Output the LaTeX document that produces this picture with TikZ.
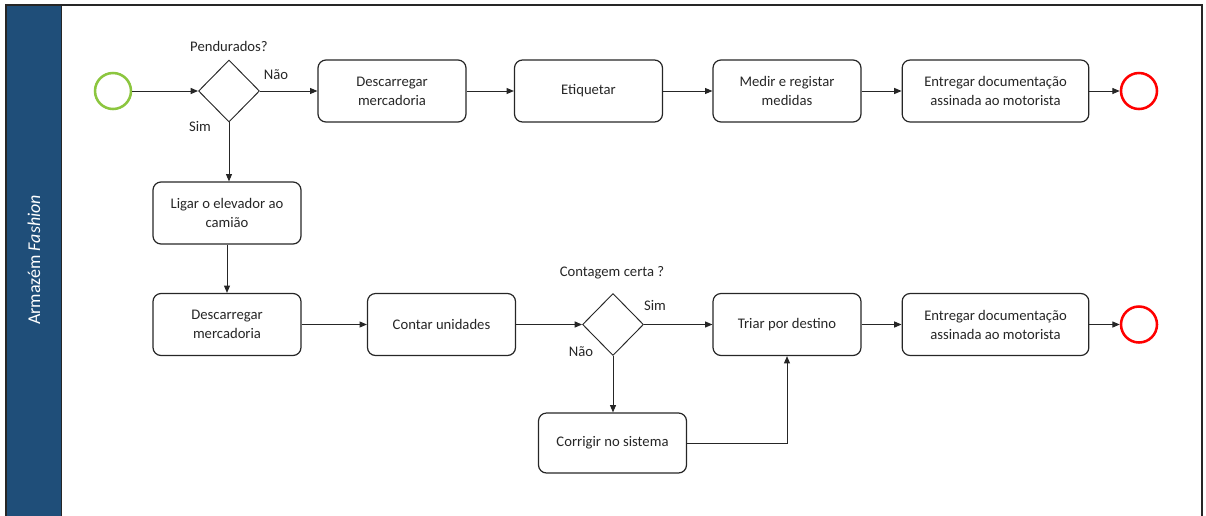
\documentclass[tikz,border=0pt]{standalone}
\usepackage{fontspec}
\setmainfont{Carlito}
\usetikzlibrary{arrows.meta,shapes.geometric}
\definecolor{lane}{HTML}{1F4E79}
\definecolor{startc}{HTML}{8CC63F}
\definecolor{endc}{HTML}{FF0000}
\definecolor{ink}{HTML}{262626}
\begin{document}
\begin{tikzpicture}[x=0.75pt,y=-0.75pt,
  font=\fontsize{11}{14.3}\selectfont, text=ink,
  task/.style={draw=ink,line width=0.9pt,rounded corners=6pt,align=center,minimum width=111pt,minimum height=46.5pt,inner sep=0pt},
  wide/.style={task,minimum width=140pt},
  gate/.style={draw=ink,line width=0.7pt,diamond,minimum width=45.75pt,minimum height=46.5pt,inner sep=0pt},
  ev/.style={circle,line width=1.9pt,minimum size=27pt,inner sep=0pt},
  flow/.style={draw=ink,line width=0.75pt,-{Triangle[length=5.5pt,width=4.5pt]}},
  lbl/.style={inner sep=1pt}]
\useasboundingbox (0,0) rectangle (1206,515);
\clip (0,0) rectangle (1206,515);
% lane
\draw[draw=ink,line width=0.9pt] (6,5) rectangle (1202,530);
\fill[lane] (7,5.5) rectangle (61,530);
\draw[draw=ink,line width=0.6pt] (61,5) -- (61,530);
\node[rotate=90,text=white,font=\fontsize{13.5}{16}\selectfont] (lanelabel) at (34,260) {Armazém \textit{Fashion}};
% top row
\node[ev,draw=startc] (s) at (113,91) {};
\node[gate] (g1) at (229,91) {};
\node[lbl] (g1q) at (229,46) {Pendurados?};
\node[lbl] (g1n) at (276,75) {Não};
\node[lbl] (g1s) at (200,126) {Sim};
\node[task] (d1) at (392,91) {Descarregar\\mercadoria};
\node[task] (et) at (588.5,91) {Etiquetar};
\node[task] (me) at (787,91) {Medir e registar\\medidas};
\node[wide] (en1) at (995.5,91) {Entregar documentação\\assinada ao motorista};
\node[ev,draw=endc] (e1) at (1139,91) {};
% left column
\node[task] (li) at (227,213) {Ligar o elevador ao\\camião};
\node[task] (d2) at (227,324.5) {Descarregar\\mercadoria};
\node[task] (co) at (441.5,324.5) {Contar unidades};
\node[gate] (g2) at (613,324.5) {};
\node[lbl] (g2q) at (612,273) {Contagem certa ?};
\node[lbl] (g2s) at (655,305) {Sim};
\node[lbl] (g2n) at (581,352) {Não};
\node[task] (tr) at (787,324.5) {Triar por destino};
\node[wide] (en2) at (995.5,324.5) {Entregar documentação\\assinada ao motorista};
\node[ev,draw=endc] (e2) at (1139,324.5) {};
\node[task,minimum height=45pt] (cr) at (612.5,443) {Corrigir no sistema};
% flows
\draw[flow] (s) -- (g1);
\draw[flow] (g1.east) -- (d1);
\draw[flow] (d1) -- (et);
\draw[flow] (et) -- (me);
\draw[flow] (me) -- (en1);
\draw[flow] (en1) -- (e1);
\draw[flow] (g1.south) -- (g1.south |- li.north);
\draw[flow] (li) -- (d2);
\draw[flow] (d2) -- (co);
\draw[flow] (co) -- (g2);
\draw[flow] (g2.east) -- (tr.west |- g2.east);
\draw[flow] (tr) -- (en2);
\draw[flow] (en2) -- (e2);
\draw[flow] (g2.south) -- (g2.south |- cr.north);
\draw[flow] (cr.east) -| (tr.south);
\end{tikzpicture}
\end{document}
